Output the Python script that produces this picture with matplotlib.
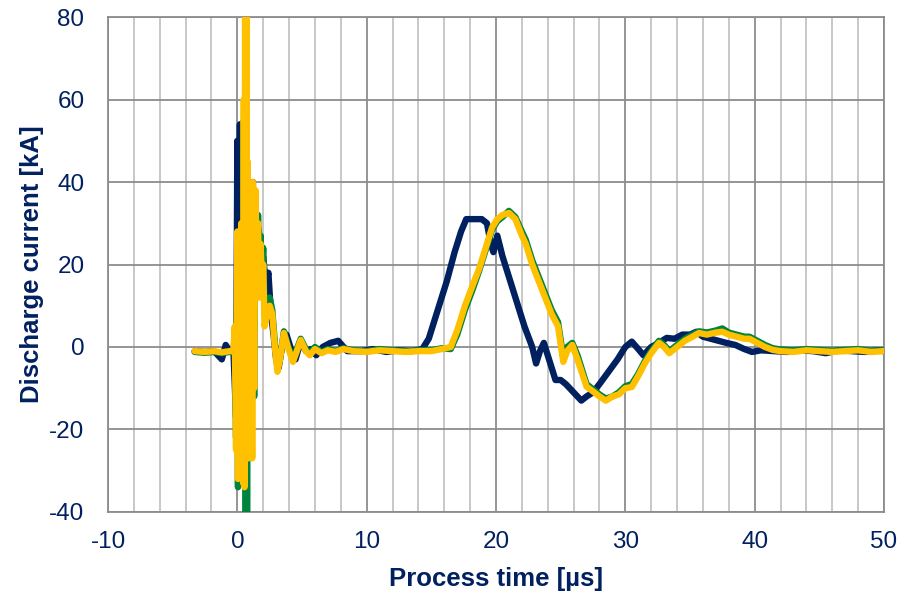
import matplotlib
matplotlib.use("Agg")
import matplotlib.pyplot as plt
from matplotlib.ticker import MultipleLocator

# navy trace
t_navy = [-3.3, -2.5, -1.8, -1.2, -0.9, -0.6, -0.3,
          -0.1, 0.0, 0.05, 0.1, 0.15, 0.2, 0.25, 0.3, 0.35, 0.4, 0.5, 0.6, 0.7, 0.8, 0.9, 1.0, 1.1, 1.2, 1.3, 1.4, 1.5, 1.6,
          1.8, 2.0, 2.2, 2.4, 2.6, 2.8, 3.0, 3.2, 3.5, 3.8, 4.2, 4.5, 4.9, 5.3, 5.7, 6.1, 6.6, 7.2, 7.8, 8.5, 9.5,
          10.5, 11.5, 12.5, 13.5, 14.3, 14.8, 15.5, 16.2, 16.8, 17.3, 17.7, 18.3, 18.9, 19.3, 19.6, 19.8, 20.1, 20.5, 21.0, 21.6, 22.2, 22.8,
          23.1, 23.4, 23.7, 24.1, 24.6, 25.0, 25.4, 26.0, 26.6, 27.0, 27.5, 28.0, 28.7, 29.4, 30.0, 30.5, 31.0, 31.4,
          32.0, 32.6, 33.2, 33.8, 34.4, 35.0, 35.5, 36.0, 36.6, 37.2, 37.8, 38.5, 39.2, 39.8, 40.5,
          41.5, 42.5, 43.5, 44.5, 45.5, 46.5, 47.5, 48.5, 49.5, 50.0]
i_navy = [-1, -1.2, -1, -3, 0.5, -1, -1,
          -17, 50, -17, 48, -10, 54, -5, 45, -12, 40, -20, 38, -15, 44, -10, 35, -5, 40, 5, 32, 12, 29,
          20, 22, 15, 18, 8, 3, -3, -5, 1, 3, -1, -3, 1.5, -1, -0.5, -2, 0, 1, 1.5, -1, -1,
          -0.5, -1.2, -0.8, -1, -0.5, 2, 9, 16, 23, 28, 31, 31, 31, 30, 25, 23, 27, 22, 17, 11, 5, 0,
          -4, -1, 1, -3, -8, -8, -9, -11, -13, -12, -11, -9, -6, -3, 0, 1.3, -0.5, -2,
          0, 1, 2.2, 2, 3, 3, 3.7, 2.5, 2, 1.5, 1, 0.5, -0.5, -1.2, -0.8,
          -1, -1.2, -0.8, -1, -1.5, -0.8, -1, -1.2, -0.8, -1]

# green and yellow traces share the time base
t_gy = [-3.3, -2.5, -1.8, -1.2, -0.6, -0.3,
        -0.2, -0.1, 0.0, 0.05, 0.1, 0.15, 0.2, 0.25, 0.3, 0.35, 0.4, 0.45, 0.5, 0.55, 0.6, 0.65, 0.7, 0.75, 0.8, 0.85,
        0.9, 0.95, 1.0, 1.05, 1.1, 1.15, 1.2,
        1.3, 1.4, 1.5, 1.6, 1.7, 1.8, 1.9, 2.0, 2.1,
        2.3, 2.5, 2.7, 2.9, 3.1, 3.3, 3.6, 3.9, 4.3, 4.6, 4.9, 5.3, 5.6, 6.0, 6.5, 7.0, 7.6, 8.2, 9.0,
        10, 11, 12, 13, 14, 15, 15.8,
        16.5, 17.0, 17.6, 18.2, 18.7, 19.2, 19.7, 20.1, 20.5, 21.0, 21.5, 22.0, 22.3, 22.8, 23.3, 23.8, 24.3, 24.8, 25.2,
        25.5, 25.9, 26.3, 27.0, 27.6, 28.0, 28.5, 29.0, 29.5, 30.0, 30.5, 31.0, 31.5,
        32.0, 32.6, 33.0, 33.4, 34.0, 34.6, 35.2, 35.7, 36.3, 37.0, 37.5, 38.0, 38.6, 39.2, 39.6, 40.2, 40.8, 41.4, 42.0,
        43, 44, 45, 46, 47, 48, 49, 50]
i_green = [-1.2, -1.4, -1.2, -1.5, -1.2, -1.2,
           3, -22, 25, -34, 22, -28, 12, -18, 27, -8, 18, -30, 55, -32, 60, -45, 70, -45, 40, -25,
           38, -13, 33, -22, 30, -8, 36,
           -12, 35, 18, 32, 15, 27, 18, 24, 8,
           10, 12, 9, 1, -5, -3, 3.8, 0.5, -3, -0.5, 2, -0.5, -1.5, 0, -1.2, -0.5, -1, -0.3, -0.8,
           -1, -0.5, -0.8, -1, -0.8, -0.8, -0.3,
           -0.5, 3, 9, 14, 18.5, 23.5, 28.5, 30.5, 31.5, 33, 31.5, 28, 26, 21, 17, 13, 9, 6, -2.5,
           0, 1, -2, -9, -10.5, -11.5, -12.5, -12, -11, -9.5, -9, -6.5, -3.5,
           -1, 1.5, 0.5, -1, 0.5, 2, 3, 3.8, 3.5, 4, 4.5, 3.5, 3, 2.5, 2.5, 1.5, 0.5, -0.3, -0.6,
           -0.8, -0.5, -0.7, -0.9, -0.7, -0.5, -0.9, -0.8]
i_yellow = [-1, -1.2, -1, -1.3, -1, -1,
            5, -25, 28, -32, 25, -30, 15, -20, 30, -10, 20, -33, 60, -34, 85, -25, 85, -5, 45, -27,
            40, -15, 35, -25, 30, -27, 40,
            -10, 38, 15, 30, 12, 25, 15, 20, 5,
            8, 10, 8, 0, -6, -3, 3.4, 0, -3.6, -1, 1.7, -1, -2, -0.5, -1.5, -0.8, -1.2, -0.5, -1,
            -1.2, -0.8, -1, -1.2, -1, -1, -0.5,
            0, 4, 10, 15, 19, 24, 29, 31, 32, 32.5, 31, 27, 25, 20, 16, 12, 8, 5, -3.6,
            -1, 0.5, -3, -9.6, -11, -12, -13, -12, -11.5, -10, -9.7, -7, -4,
            -1.5, 1, 0, -1.5, 0, 1.5, 2.5, 3.4, 3, 3.5, 3.7, 3, 2.5, 2, 2, 1, 0, -0.7, -1,
            -1.2, -0.8, -1, -1.2, -1, -0.8, -1.2, -1]

navy = '#002060'
plt.rcParams['font.family'] = ['Liberation Sans', 'DejaVu Sans']
plt.rcParams['axes.unicode_minus'] = False

fig = plt.figure(figsize=(9.1, 5.97), dpi=100)
ax = fig.add_axes([0.1187, 0.1424, 0.8527, 0.8291])

lw = 4.6
ax.plot(t_navy, i_navy, color=navy, lw=lw, solid_joinstyle='round', solid_capstyle='round', zorder=3)
ax.plot(t_gy, i_green, color='#00843D', lw=lw, solid_joinstyle='round', solid_capstyle='round', zorder=4)
ax.plot(t_gy, i_yellow, color='#FFC000', lw=lw, solid_joinstyle='round', solid_capstyle='round', zorder=5)

ax.set_xlim(-10, 50)
ax.set_ylim(-40, 80)
ax.xaxis.set_major_locator(MultipleLocator(10))
ax.xaxis.set_minor_locator(MultipleLocator(2))
ax.yaxis.set_major_locator(MultipleLocator(20))
ax.grid(which='major', color='#8C8C8C', lw=1.3, zorder=1)
ax.grid(which='minor', axis='x', color='#C4C4C4', lw=1.3, zorder=0)
for s in ax.spines.values():
    s.set_color('#8C8C8C')
    s.set_linewidth(1.3)

ax.tick_params(which='both', length=0, labelsize=17.5, labelcolor=navy)
ax.tick_params(axis='y', pad=17)
ax.tick_params(axis='x', pad=14)

ax.set_xlabel('Process time [µs]', fontsize=18.5, fontweight='bold', color=navy, labelpad=10)
ax.set_ylabel('Discharge current [kA]', fontsize=18.5, fontweight='bold', color=navy, labelpad=4)

fig.savefig('out.png', dpi=100)
